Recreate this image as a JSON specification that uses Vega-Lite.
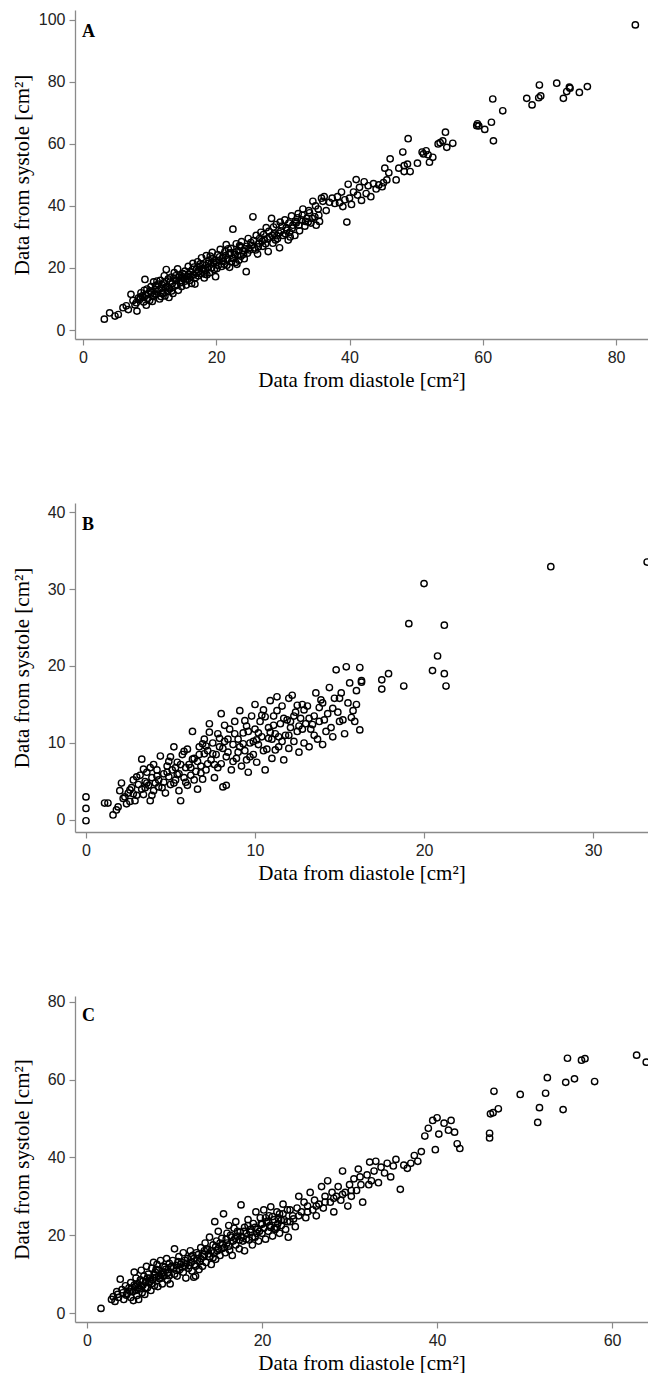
{
"$schema":"https://vega.github.io/schema/vega-lite/v6.json",
"background":"white",
"padding":{"left":11,"top":10,"right":0,"bottom":0},
"bounds":"flush",
"spacing":164,
"config":{
 "font":"Liberation Sans",
 "view":{"stroke":null},
 "axis":{"grid":false,"domainColor":"#8a8a8a","domainWidth":1.3,"tickColor":"#8a8a8a","tickWidth":1.2,"tickSize":6,"labelPadding":4,"labelFont":"Liberation Sans","labelFontSize":16,"labelColor":"#222222","titleFont":"Liberation Serif","titleFontSize":21,"titleFontWeight":"normal","titleColor":"#000000"},
 "axisX":{"titlePadding":4,"labelFont":"Liberation Sans"},
 "axisY":{"titleX":-43,"titleBaseline":"bottom","labelFont":"Liberation Sans"},
 "title":{"anchor":"start","frame":"group","font":"Liberation Serif","fontSize":18,"fontWeight":"bold","color":"#000000","baseline":"top","offset":-20,"dx":7,"dy":11}
},
"datasets":{
"A":[
{"d":3.2,"s":3.5},{"d":4,"s":5.5},{"d":4.8,"s":4.5},{"d":5.3,"s":5},{"d":6,"s":7.2},{"d":6.5,"s":7.8},{"d":6.8,"s":6.6},{"d":7.2,"s":11.5},{"d":7.5,"s":9.5},{"d":8,"s":8.8},{"d":8.1,"s":6.1},{"d":8.5,"s":9.8},{"d":8.7,"s":12},{"d":8.9,"s":11},
{"d":9,"s":10.5},{"d":9.2,"s":12.8},{"d":9.3,"s":16.3},{"d":9.5,"s":8},{"d":9.6,"s":13.2},{"d":9.8,"s":11.8},{"d":10,"s":9.5},{"d":10.2,"s":14},{"d":10.3,"s":12.2},{"d":10.5,"s":10.8},{"d":10.6,"s":15.5},{"d":10.8,"s":13},{"d":11,"s":11.5},{"d":11.2,"s":12.5},{"d":11.3,"s":14.8},{"d":11.5,"s":10},{"d":11.6,"s":16},{"d":11.8,"s":13.5},{"d":12,"s":12},{"d":12.1,"s":15.2},{"d":12.3,"s":11},{"d":12.5,"s":19.5},{"d":12.6,"s":14},{"d":12.8,"s":16.5},{"d":12.9,"s":10.5},
{"d":13,"s":13.2},{"d":13.2,"s":17},{"d":13.4,"s":15},{"d":13.5,"s":11.8},{"d":13.7,"s":18.5},{"d":13.8,"s":14.2},{"d":14,"s":16},{"d":14.2,"s":19.7},{"d":14.3,"s":12.8},{"d":14.5,"s":17.5},{"d":14.6,"s":15.2},{"d":14.8,"s":14},{"d":15,"s":18.2},{"d":15.1,"s":16.5},{"d":15.3,"s":19},{"d":15.5,"s":14.5},{"d":15.6,"s":17.2},{"d":15.8,"s":20.5},{"d":16,"s":16},{"d":16.1,"s":18.8},{"d":16.3,"s":15},{"d":16.5,"s":21.5},{"d":16.6,"s":17.8},{"d":16.8,"s":14.8},{"d":17,"s":19.5},
{"d":17.2,"s":22},{"d":17.3,"s":17.5},{"d":17.5,"s":20.5},{"d":17.7,"s":18.2},{"d":17.8,"s":23.3},{"d":18,"s":21},{"d":18.2,"s":16.8},{"d":18.4,"s":19.2},{"d":18.5,"s":24},{"d":18.7,"s":20.2},{"d":18.9,"s":22.5},{"d":19,"s":18.5},{"d":19.2,"s":21.3},{"d":19.4,"s":25},{"d":19.5,"s":23},{"d":19.7,"s":19.5},{"d":19.9,"s":17.2},{"d":20,"s":21.8},{"d":20.2,"s":24.2},
{"d":20.4,"s":22.5},{"d":20.6,"s":26},{"d":20.8,"s":20.5},{"d":21,"s":23.5},{"d":21.2,"s":21.2},{"d":21.3,"s":25.3},{"d":21.5,"s":27.5},{"d":21.7,"s":22.8},{"d":21.9,"s":24.5},{"d":22,"s":20.2},{"d":22.2,"s":26.3},{"d":22.4,"s":23.2},{"d":22.5,"s":32.5},{"d":22.7,"s":25},{"d":22.9,"s":21.8},{"d":23,"s":27.8},{"d":23.2,"s":24},{"d":23.4,"s":22.5},{"d":23.6,"s":26.8},{"d":23.8,"s":28.5},{"d":24,"s":25.5},{"d":24.2,"s":23},{"d":24.5,"s":18.8},{"d":24.6,"s":27},{"d":24.8,"s":29.5},
{"d":25,"s":25.8},{"d":25.2,"s":28.2},{"d":25.5,"s":36.5},{"d":25.7,"s":26.5},{"d":26,"s":30.5},{"d":26.2,"s":24.5},{"d":26.4,"s":28},{"d":26.7,"s":31.5},{"d":27,"s":27},{"d":27.2,"s":29.2},{"d":27.5,"s":33},{"d":27.8,"s":25.3},{"d":28,"s":30},{"d":28.3,"s":36},{"d":28.5,"s":28},{"d":28.7,"s":31},{"d":29,"s":34},{"d":29.2,"s":29.5},{"d":29.5,"s":26.5},{"d":29.7,"s":32},{"d":30,"s":30.5},{"d":30.3,"s":35.5},{"d":30.5,"s":33},{"d":30.8,"s":29},{"d":31,"s":31.5},
{"d":31.3,"s":36.8},{"d":31.5,"s":33.8},{"d":31.8,"s":30.5},{"d":32,"s":34.5},{"d":32.3,"s":37.5},{"d":32.5,"s":32},{"d":32.8,"s":35.5},{"d":33,"s":39},{"d":33.3,"s":33.5},{"d":33.6,"s":36},{"d":34,"s":37.8},{"d":34.2,"s":34.5},{"d":34.5,"s":41.5},{"d":34.8,"s":36.5},{"d":35,"s":33.8},{"d":35.3,"s":39},{"d":35.5,"s":35},{"d":36,"s":41.5},{"d":36.2,"s":43},{"d":36.5,"s":38.5},
{"d":37,"s":41.2},{"d":37.4,"s":42.5},{"d":37.8,"s":40.8},{"d":38.2,"s":43},{"d":38.5,"s":41},{"d":38.8,"s":44.5},{"d":39,"s":39.8},{"d":39.3,"s":42},{"d":39.6,"s":34.8},{"d":39.8,"s":47},{"d":40,"s":42.5},{"d":40.3,"s":40.5},{"d":40.6,"s":44.5},{"d":41,"s":48.5},{"d":41.2,"s":43.5},{"d":41.5,"s":46},{"d":41.8,"s":41.8},{"d":42.2,"s":47.8},{"d":42.5,"s":44},{"d":42.8,"s":46.5},{"d":43.2,"s":43},{"d":43.6,"s":47.2},{"d":44,"s":45.5},{"d":44.4,"s":46.8},{"d":44.9,"s":46.2},{"d":45.1,"s":47.5},{"d":45.3,"s":52.2},{"d":45.6,"s":48.4},{"d":45.9,"s":50.7},{"d":46.1,"s":55.2},{"d":47,"s":48.4},{"d":47.4,"s":52.2},{"d":48,"s":57.4},{"d":48.2,"s":53},{"d":48.2,"s":51.1},{"d":48.7,"s":53.5},{"d":48.8,"s":61.7},{"d":49.1,"s":51.1},{"d":50.2,"s":53.8},{"d":50.9,"s":57.4},{"d":51.5,"s":57.8},{"d":51.1,"s":56.8},{"d":51.8,"s":56.5},{"d":52.5,"s":55.7},{"d":52,"s":54.1},{"d":53.6,"s":60.4},{"d":53.3,"s":60},{"d":54,"s":61},{"d":54.6,"s":58.9},{"d":55.5,"s":60.2},{"d":54.4,"s":63.8},{"d":59.2,"s":66.5},{"d":59.4,"s":65.8},{"d":59.1,"s":65.9},{"d":60.3,"s":64.7},{"d":61.3,"s":67},{"d":61.6,"s":61},{"d":61.5,"s":74.5},{"d":63,"s":70.7},{"d":66.6,"s":74.7},{"d":67.4,"s":72.6},{"d":68.4,"s":74.9},{"d":68.7,"s":75.5},{"d":68.5,"s":79},{"d":71.1,"s":79.6},{"d":73,"s":78.3},{"d":73.1,"s":78},{"d":72.6,"s":76.9},{"d":72.1,"s":74.7},{"d":74.5,"s":76.6},{"d":75.7,"s":78.5},{"d":82.9,"s":98.4},
{"d":9.4,"s":11.2},{"d":10.1,"s":12.6},{"d":10.9,"s":14.3},{"d":11.4,"s":13.1},{"d":11.9,"s":11.7},{"d":12.4,"s":13.8},{"d":12.7,"s":12.5},{"d":13.1,"s":15.8},{"d":13.6,"s":16.7},{"d":14.1,"s":14.6},{"d":14.4,"s":17},{"d":14.9,"s":16.8},{"d":15.4,"s":15.8},{"d":15.9,"s":18},{"d":16.4,"s":19.5},{"d":16.9,"s":16.9},{"d":17.4,"s":18.9},{"d":17.9,"s":19.8},{"d":18.3,"s":18},{"d":18.8,"s":21.5},{"d":19.3,"s":20},{"d":19.8,"s":22.3},{"d":20.3,"s":20.8},{"d":20.9,"s":23},{"d":21.4,"s":24},{"d":21.8,"s":26.2},{"d":22.3,"s":22},{"d":22.8,"s":24.3},{"d":23.3,"s":25.6},{"d":23.7,"s":23.8},{"d":24.3,"s":26.2},{"d":24.7,"s":24.8},{"d":25.3,"s":27.3},{"d":25.9,"s":25.8},{"d":26.5,"s":29.5},{"d":26.9,"s":28.6},{"d":27.4,"s":27.8},{"d":27.9,"s":31.8},{"d":28.4,"s":30.5},{"d":28.9,"s":29},{"d":29.4,"s":31.2},{"d":29.9,"s":33.5},{"d":30.4,"s":31},{"d":30.9,"s":34.5},{"d":31.4,"s":32.8},{"d":31.9,"s":35},{"d":32.4,"s":33.8},{"d":32.9,"s":37},{"d":33.4,"s":35},{"d":33.9,"s":38.5},{"d":34.4,"s":36},{"d":34.9,"s":40},{"d":35.4,"s":37},{"d":35.8,"s":42.5},{"d":10.4,"s":9.2},{"d":11.7,"s":10.8},{"d":12.2,"s":17.5},{"d":8.3,"s":10.3},{"d":9.1,"s":9},{"d":7.8,"s":8.1},
{"d":8.6,"s":10.6},{"d":9.7,"s":10.2},{"d":10.7,"s":11.6},{"d":11.1,"s":15.8},{"d":11.9,"s":14.6},{"d":12.9,"s":13.6},{"d":13.3,"s":12.6},{"d":13.9,"s":17.5},{"d":14.7,"s":15.9},{"d":15.2,"s":17.8},{"d":15.7,"s":16.4},{"d":16.2,"s":17.3},{"d":16.7,"s":20.3},{"d":17.1,"s":18.3},{"d":17.6,"s":21.3},{"d":18.1,"s":19.6},{"d":18.6,"s":17.8},{"d":19.1,"s":23.8},{"d":19.6,"s":21.7},{"d":20.1,"s":19.8},{"d":20.5,"s":23.6},{"d":21.1,"s":22.1},{"d":21.6,"s":20.9},{"d":22.1,"s":24.9},{"d":22.6,"s":23.1},{"d":23.1,"s":21.2},{"d":23.5,"s":27.2},{"d":24.1,"s":24.4},{"d":24.9,"s":26.4},{"d":25.6,"s":28.8},{"d":26.3,"s":26.8},{"d":27.1,"s":30.8},{"d":27.7,"s":29.4},{"d":28.6,"s":33.2},{"d":29.1,"s":30.4},{"d":29.6,"s":34.8},{"d":30.6,"s":32.2},{"d":31.1,"s":30},{"d":32.2,"s":36.2},{"d":33.8,"s":34.8}
],
"B":[
{"d":0,"s":3},{"d":0,"s":1.5},{"d":0,"s":-0.1},{"d":1.1,"s":2.2},{"d":1.3,"s":2.2},{"d":1.6,"s":0.65},{"d":1.8,"s":1.3},{"d":1.9,"s":1.7},{"d":2,"s":3.8},{"d":2.1,"s":4.8},{"d":2.2,"s":2.8},{"d":2.4,"s":2.1},{"d":2.5,"s":3.5},{"d":2.6,"s":2.4},{"d":2.7,"s":4.2},{"d":2.8,"s":5.2},{"d":2.9,"s":2.5},{"d":3,"s":3.2},{"d":3.1,"s":4.6},
{"d":3.2,"s":5.8},{"d":3.3,"s":7.9},{"d":3.3,"s":4},{"d":3.4,"s":3.3},{"d":3.5,"s":5},{"d":3.6,"s":6.2},{"d":3.7,"s":4.5},{"d":3.8,"s":2.5},{"d":3.9,"s":5.5},{"d":4,"s":7.2},{"d":4,"s":3.8},{"d":4.1,"s":4.8},{"d":4.2,"s":6.5},{"d":4.3,"s":5.2},{"d":4.4,"s":8.3},{"d":4.5,"s":4.2},{"d":4.6,"s":6},{"d":4.7,"s":3.5},{"d":4.8,"s":7},{"d":4.9,"s":5.6},{"d":5,"s":4.6},{"d":5,"s":8.2},
{"d":5.1,"s":6.5},{"d":5.2,"s":9.5},{"d":5.3,"s":5.2},{"d":5.4,"s":7.5},{"d":5.5,"s":3.8},{"d":5.5,"s":6},{"d":5.6,"s":2.5},{"d":5.7,"s":8.5},{"d":5.8,"s":5.5},{"d":5.9,"s":6.8},{"d":6,"s":9.2},{"d":6,"s":4.5},{"d":6.1,"s":7.2},{"d":6.2,"s":5.8},{"d":6.3,"s":11.5},{"d":6.4,"s":8},{"d":6.5,"s":6.3},{"d":6.6,"s":4},{"d":6.7,"s":9.5},{"d":6.8,"s":7},{"d":6.9,"s":5.3},{"d":7,"s":8.6},
{"d":7,"s":10.5},{"d":7.1,"s":6.5},{"d":7.2,"s":9},{"d":7.3,"s":12.5},{"d":7.4,"s":7.8},{"d":7.5,"s":10},{"d":7.6,"s":5.5},{"d":7.7,"s":8.5},{"d":7.8,"s":11.2},{"d":7.9,"s":9.5},{"d":8,"s":7.3},{"d":8,"s":13.8},{"d":8.1,"s":4.3},{"d":8.2,"s":10.2},{"d":8.3,"s":4.5},{"d":8.4,"s":8.8},{"d":8.5,"s":11.8},{"d":8.6,"s":6.5},{"d":8.7,"s":9.8},{"d":8.8,"s":12.8},{"d":8.9,"s":8},{"d":9,"s":10.5},
{"d":9.1,"s":14.2},{"d":9.2,"s":7},{"d":9.3,"s":11.3},{"d":9.4,"s":9},{"d":9.5,"s":12.2},{"d":9.6,"s":6.2},{"d":9.7,"s":10},{"d":9.8,"s":13.5},{"d":9.9,"s":8.5},{"d":10,"s":11.8},{"d":10,"s":15},{"d":10.1,"s":7.5},{"d":10.2,"s":9.8},{"d":10.3,"s":12.8},{"d":10.4,"s":10.8},{"d":10.5,"s":14.3},{"d":10.6,"s":6.5},{"d":10.7,"s":9.2},{"d":10.8,"s":12},{"d":10.9,"s":15.5},{"d":11,"s":10.5},{"d":11,"s":8},
{"d":11.1,"s":13.5},{"d":11.2,"s":11.2},{"d":11.3,"s":16},{"d":11.4,"s":9.5},{"d":11.5,"s":12.5},{"d":11.6,"s":14.8},{"d":11.7,"s":7.8},{"d":11.8,"s":11},{"d":11.9,"s":13},{"d":12,"s":15.8},{"d":12,"s":9.3},{"d":12.1,"s":12},{"d":12.2,"s":16.2},{"d":12.3,"s":10.2},{"d":12.4,"s":14},{"d":12.5,"s":11.5},{"d":12.6,"s":8.8},{"d":12.7,"s":13.2},{"d":12.8,"s":15},{"d":12.9,"s":10},{"d":13,"s":12.5},
{"d":13.1,"s":14.8},{"d":13.2,"s":9.5},{"d":13.3,"s":11.8},{"d":13.5,"s":13.5},{"d":13.6,"s":16.5},{"d":13.7,"s":10.5},{"d":13.8,"s":12.8},{"d":14,"s":15.2},{"d":14,"s":9.8},{"d":14.2,"s":11.5},{"d":14.3,"s":13.8},{"d":14.4,"s":17.2},{"d":14.5,"s":12},{"d":14.6,"s":10.8},{"d":14.7,"s":15.8},{"d":14.8,"s":19.5},{"d":14.9,"s":14},{"d":15,"s":12.8},{"d":15.1,"s":16.5},{"d":15.2,"s":13},{"d":15.3,"s":11.2},{"d":15.4,"s":19.9},{"d":15.5,"s":15.2},{"d":15.6,"s":17.8},{"d":15.8,"s":14.2},{"d":15.9,"s":12.8},{"d":16,"s":16.8},{"d":16.2,"s":19.8},{"d":16.2,"s":11.7},{"d":16.3,"s":18.1},{"d":16.3,"s":17.9},{"d":17.5,"s":18.2},{"d":17.9,"s":19},{"d":17.5,"s":17},{"d":18.8,"s":17.4},{"d":19.1,"s":25.5},{"d":20,"s":30.7},{"d":20.5,"s":19.4},{"d":20.8,"s":21.3},{"d":21.2,"s":19},{"d":21.2,"s":25.3},{"d":21.3,"s":17.4},{"d":27.5,"s":32.9},{"d":33.2,"s":33.5},
{"d":2.3,"s":3},{"d":2.6,"s":3.9},{"d":3,"s":5.6},{"d":3.5,"s":4.2},{"d":3.9,"s":3.2},{"d":4.2,"s":5.7},{"d":4.6,"s":4.9},{"d":5.2,"s":4.8},{"d":5.6,"s":7.2},{"d":5.9,"s":4.9},{"d":6.2,"s":6.8},{"d":6.6,"s":7.6},{"d":6.9,"s":9.9},{"d":7.2,"s":7.3},{"d":7.5,"s":8.6},{"d":7.8,"s":6.8},{"d":8.1,"s":9.3},{"d":8.4,"s":10.5},{"d":8.7,"s":7.6},{"d":9,"s":8.8},{"d":9.3,"s":9.9},{"d":9.6,"s":11.5},{"d":9.9,"s":10.2},{"d":10.2,"s":11.3},{"d":10.5,"s":9},{"d":10.8,"s":10.6},{"d":11.1,"s":12.3},{"d":11.4,"s":10.8},{"d":11.7,"s":13.2},{"d":12,"s":11},{"d":12.3,"s":13.5},{"d":12.6,"s":12.2},{"d":12.9,"s":14.3},{"d":13.2,"s":13.2},{"d":13.5,"s":11},{"d":13.8,"s":14.6},{"d":5.4,"s":5.9},{"d":6.4,"s":5.2},{"d":7.3,"s":11.4},{"d":8.2,"s":12.3},{"d":9.5,"s":7.8},{"d":10.6,"s":13.4},{"d":11.2,"s":9.1},{"d":4.8,"s":6.2},{"d":3.6,"s":4.8},{"d":6.7,"s":8.5},
{"d":3.4,"s":6.6},{"d":4.3,"s":4.3},{"d":4.9,"s":7.6},{"d":5.3,"s":6.8},{"d":5.8,"s":8.9},{"d":6.3,"s":7.9},{"d":6.8,"s":6.1},{"d":7.1,"s":9.6},{"d":7.6,"s":7.2},{"d":7.9,"s":10.6},{"d":8.3,"s":8.2},{"d":8.8,"s":11.2},{"d":9.1,"s":9.5},{"d":9.4,"s":12.9},{"d":9.7,"s":8.2},{"d":10.1,"s":10.4},{"d":10.4,"s":13.6},{"d":10.9,"s":11.4},{"d":11.3,"s":14.2},{"d":11.6,"s":10.2},{"d":12.1,"s":12.8},{"d":12.5,"s":14.9},{"d":12.8,"s":11.8},{"d":13.4,"s":12.4},{"d":13.9,"s":15.6},{"d":14.1,"s":13},{"d":14.6,"s":14.5},{"d":15,"s":15.8},{"d":15.7,"s":13.3},{"d":16,"s":15},{"d":2.8,"s":3.4},{"d":3.8,"s":6.8}
],
"C":[
{"d":1.6,"s":1.2},{"d":2.8,"s":3.5},{"d":3,"s":4.2},{"d":3.2,"s":3},{"d":3.4,"s":5.5},{"d":3.6,"s":4},{"d":3.8,"s":8.7},{"d":4,"s":6},{"d":4.2,"s":3.5},{"d":4.4,"s":7},{"d":4.6,"s":5},{"d":4.8,"s":6.5},{"d":5,"s":4},{"d":5,"s":7.8},{"d":5.2,"s":5.5},{"d":5.3,"s":3.2},{"d":5.4,"s":10.5},{"d":5.5,"s":6.8},{"d":5.6,"s":9},{"d":5.7,"s":4.5},{"d":5.8,"s":7.5},{"d":5.9,"s":3.5},
{"d":6,"s":6.2},{"d":6.1,"s":8.5},{"d":6.2,"s":11},{"d":6.3,"s":5.2},{"d":6.4,"s":7.2},{"d":6.5,"s":9.5},{"d":6.6,"s":4.8},{"d":6.7,"s":8},{"d":6.8,"s":12},{"d":6.9,"s":6.5},{"d":7,"s":10},{"d":7.1,"s":7.8},{"d":7.2,"s":9},{"d":7.3,"s":5.8},{"d":7.4,"s":11.5},{"d":7.5,"s":8.5},{"d":7.6,"s":13},{"d":7.7,"s":7},{"d":7.8,"s":10.5},{"d":7.9,"s":9.2},{"d":8,"s":12.5},{"d":8.1,"s":6.8},{"d":8.2,"s":11},{"d":8.3,"s":8.8},{"d":8.4,"s":13.5},{"d":8.5,"s":10},{"d":8.6,"s":7.5},{"d":8.7,"s":12},{"d":8.8,"s":9.5},{"d":9,"s":11.2},{"d":9.1,"s":14},{"d":9.2,"s":8.5},
{"d":9.3,"s":10.5},{"d":9.4,"s":12.8},{"d":9.5,"s":7.5},{"d":9.6,"s":11.8},{"d":9.8,"s":13.5},{"d":10,"s":10},{"d":10,"s":16.5},{"d":10.2,"s":12.2},{"d":10.3,"s":9.5},{"d":10.5,"s":14.5},{"d":10.6,"s":11.2},{"d":10.8,"s":13},{"d":11,"s":10.5},{"d":11,"s":15.5},{"d":11.2,"s":12},{"d":11.3,"s":9},{"d":11.5,"s":14},{"d":11.6,"s":11.5},{"d":11.8,"s":16},{"d":11.9,"s":13},{"d":12,"s":10.8},{"d":12.1,"s":14.8},{"d":12.2,"s":9.2},{"d":12.3,"s":12.5},{"d":12.4,"s":9.5},{"d":12.5,"s":15.5},{"d":12.6,"s":13.5},{"d":12.8,"s":11.2},{"d":13,"s":16.8},{"d":13,"s":14},
{"d":13.2,"s":12},{"d":13.4,"s":15},{"d":13.5,"s":18},{"d":13.6,"s":13},{"d":13.8,"s":16.2},{"d":14,"s":14.5},{"d":14,"s":19.5},{"d":14.2,"s":12.5},{"d":14.4,"s":17.5},{"d":14.5,"s":15.5},{"d":14.6,"s":23.5},{"d":14.7,"s":13.8},{"d":14.8,"s":18.5},{"d":15,"s":16.5},{"d":15,"s":21},{"d":15.2,"s":14.8},{"d":15.4,"s":19.2},{"d":15.5,"s":17.5},{"d":15.6,"s":25.5},{"d":15.8,"s":15.5},{"d":16,"s":20.5},{"d":16,"s":18},{"d":16.2,"s":22.5},{"d":16.3,"s":16.2},{"d":16.5,"s":19.5},{"d":16.6,"s":14.8},{"d":16.8,"s":21.8},{"d":17,"s":17.5},{"d":17,"s":23.5},{"d":17.2,"s":19.8},{"d":17.4,"s":16.5},{"d":17.5,"s":20.8},{"d":17.6,"s":27.8},{"d":17.8,"s":18.5},{"d":18,"s":22},{"d":18,"s":16},
{"d":18.2,"s":20.5},{"d":18.4,"s":24},{"d":18.5,"s":18.8},{"d":18.7,"s":21.5},{"d":18.9,"s":17.5},{"d":19,"s":23},{"d":19.2,"s":19.5},{"d":19.3,"s":26},{"d":19.5,"s":21.5},{"d":19.6,"s":18.5},{"d":19.8,"s":24.5},{"d":20,"s":20.5},{"d":20,"s":22.8},{"d":20.2,"s":26.5},{"d":20.4,"s":19},{"d":20.5,"s":23.5},{"d":20.7,"s":21},{"d":20.8,"s":25},{"d":21,"s":27.3},{"d":21,"s":22},{"d":21.2,"s":19.8},{"d":21.4,"s":24},{"d":21.5,"s":21.5},{"d":21.7,"s":26},{"d":21.8,"s":23},{"d":22,"s":20.5},{"d":22,"s":25.5},{"d":22.2,"s":22.5},{"d":22.4,"s":28},{"d":22.5,"s":24},{"d":22.7,"s":21.5},{"d":22.9,"s":26.5},{"d":23,"s":19.5},
{"d":23.2,"s":23.5},{"d":23.5,"s":25},{"d":23.8,"s":22.2},{"d":24,"s":27},{"d":24.2,"s":30},{"d":24.5,"s":26},{"d":24.8,"s":28.5},{"d":25,"s":24.5},{"d":25.2,"s":27.5},{"d":25.5,"s":31},{"d":25.8,"s":26.5},{"d":26,"s":29},{"d":26.2,"s":25},{"d":26.5,"s":28},{"d":26.8,"s":32.5},{"d":27,"s":27},{"d":27.2,"s":30},{"d":27.5,"s":34},{"d":27.8,"s":28.5},{"d":28,"s":31},{"d":28.2,"s":26},{"d":28.5,"s":30},{"d":28.7,"s":32.5},{"d":29,"s":29},{"d":29.2,"s":36.5},{"d":29.5,"s":31},{"d":29.8,"s":27.5},{"d":30,"s":33},{"d":30.2,"s":30},
{"d":30.5,"s":34.5},{"d":30.8,"s":31.5},{"d":31,"s":37},{"d":31.3,"s":33},{"d":31.5,"s":28.5},{"d":32,"s":35.5},{"d":32.3,"s":38.8},{"d":32.5,"s":34},{"d":32.8,"s":36.5},{"d":33,"s":39},{"d":33.3,"s":33.5},{"d":33.6,"s":37.5},{"d":34,"s":36},{"d":34.3,"s":38.5},{"d":34.7,"s":35},{"d":35,"s":37.8},{"d":35.3,"s":39.5},{"d":35.8,"s":31.8},{"d":36.2,"s":38},{"d":36.6,"s":37.2},{"d":37,"s":38.5},{"d":37.4,"s":40.5},{"d":37.8,"s":39},{"d":38.2,"s":41.5},
{"d":38.6,"s":45.5},{"d":39,"s":47.5},{"d":39.5,"s":49.5},{"d":39.8,"s":42},{"d":40.2,"s":46},{"d":40,"s":50.2},{"d":40.8,"s":48.8},{"d":41.3,"s":47},{"d":41.6,"s":49.5},{"d":42,"s":46.5},{"d":42.3,"s":43.5},{"d":42.6,"s":42.3},{"d":46,"s":46.2},{"d":46,"s":45},{"d":46.1,"s":51.2},{"d":46.4,"s":51.5},{"d":46.5,"s":57},{"d":47,"s":52.5},{"d":49.5,"s":56.2},{"d":51.5,"s":49},{"d":51.7,"s":52.8},{"d":52.4,"s":56.5},{"d":52.6,"s":60.5},{"d":54.4,"s":52.3},{"d":54.7,"s":59.3},{"d":54.9,"s":65.5},{"d":55.7,"s":60.2},{"d":56.5,"s":65},{"d":56.9,"s":65.4},{"d":58,"s":59.5},{"d":62.8,"s":66.3},{"d":63.9,"s":64.5},
{"d":4.5,"s":4.6},{"d":5.1,"s":6.2},{"d":5.6,"s":5.8},{"d":6.2,"s":7},{"d":6.7,"s":6.5},{"d":7.2,"s":8.2},{"d":7.7,"s":9.8},{"d":8.2,"s":9.6},{"d":8.7,"s":10.5},{"d":9.2,"s":10.2},{"d":9.7,"s":12},{"d":10.2,"s":11},{"d":10.7,"s":12.5},{"d":11.2,"s":13.5},{"d":11.7,"s":12.2},{"d":12.2,"s":14},{"d":12.7,"s":15},{"d":13.2,"s":14.5},{"d":13.7,"s":16.5},{"d":14.2,"s":16},{"d":14.7,"s":17},{"d":15.2,"s":18},{"d":15.7,"s":16.8},{"d":16.2,"s":17.2},{"d":16.7,"s":18.5},{"d":17.2,"s":21},{"d":17.7,"s":19.5},{"d":18.2,"s":19},{"d":18.7,"s":20.8},{"d":19.2,"s":22},{"d":19.7,"s":21},{"d":20.2,"s":21.8},{"d":20.7,"s":23.5},{"d":21.2,"s":24.8},{"d":21.7,"s":22},{"d":22.2,"s":23.8},{"d":23.2,"s":26.5},{"d":24.2,"s":25},{"d":25.2,"s":26},{"d":26.2,"s":27.5},{"d":27.2,"s":28.5},{"d":28.2,"s":29.5},{"d":29.2,"s":30.5},{"d":30.2,"s":31.5},{"d":31.2,"s":35},{"d":32.2,"s":33},
{"d":3.5,"s":4.8},{"d":4.1,"s":5.2},{"d":4.9,"s":5.6},{"d":5.4,"s":7.2},{"d":5.9,"s":6.6},{"d":6.4,"s":8.2},{"d":6.9,"s":9},{"d":7.4,"s":7.6},{"d":7.9,"s":11.2},{"d":8.4,"s":9.2},{"d":8.9,"s":11.8},{"d":9.4,"s":9.6},{"d":9.9,"s":11.6},{"d":10.4,"s":13.2},{"d":10.9,"s":11.8},{"d":11.4,"s":12.8},{"d":11.9,"s":14.5},{"d":12.4,"s":12},{"d":12.9,"s":13.2},{"d":13.4,"s":16},{"d":13.9,"s":15.2},{"d":14.4,"s":14.2},{"d":14.9,"s":16},{"d":15.4,"s":16.5},{"d":15.9,"s":19},{"d":16.4,"s":20},{"d":16.9,"s":19.2},{"d":17.4,"s":18.8},{"d":17.9,"s":21},{"d":18.4,"s":22.5},{"d":18.9,"s":19.5},{"d":19.4,"s":20.5},{"d":19.9,"s":23},{"d":20.4,"s":24.5},{"d":20.9,"s":22.5},{"d":21.4,"s":21.8},{"d":21.9,"s":24.2},{"d":22.4,"s":25.5},{"d":22.9,"s":23.5},{"d":23.6,"s":24.2}
]
},
"vconcat":[
{
 "title":{"text":"A"},
 "width":573,"height":329,
 "data":{"name":"A"},
 "mark":{"type":"point","shape":"circle","filled":false,"color":"#000000","size":40,"strokeWidth":1.4,"opacity":1,"clip":true},
 "encoding":{
  "x":{"field":"d","type":"quantitative","scale":{"domain":[-1.2,84.8],"nice":false,"zero":false},"axis":{"title":"Data from diastole [cm²]","values":[0,20,40,60,80]}},
  "y":{"field":"s","type":"quantitative","scale":{"domain":[-2.9,103.2],"nice":false,"zero":false},"axis":{"title":"Data from systole [cm²]","values":[0,20,40,60,80,100]}}
 }
},
{
 "title":{"text":"B"},
 "width":573,"height":329,
 "data":{"name":"B"},
 "mark":{"type":"point","shape":"circle","filled":false,"color":"#000000","size":40,"strokeWidth":1.4,"opacity":1,"clip":true},
 "encoding":{
  "x":{"field":"d","type":"quantitative","scale":{"domain":[-0.65,33.25],"nice":false,"zero":false},"axis":{"title":"Data from diastole [cm²]","values":[0,10,20,30]}},
  "y":{"field":"s","type":"quantitative","scale":{"domain":[-1.56,41.17],"nice":false,"zero":false},"axis":{"title":"Data from systole [cm²]","values":[0,10,20,30,40]}}
 }
},
{
 "title":{"text":"C"},
 "width":573,"height":326,
 "data":{"name":"C"},
 "mark":{"type":"point","shape":"circle","filled":false,"color":"#000000","size":40,"strokeWidth":1.4,"opacity":1,"clip":true},
 "encoding":{
  "x":{"field":"d","type":"quantitative","scale":{"domain":[-1.37,64.1],"nice":false,"zero":false},"axis":{"title":"Data from diastole [cm²]","values":[0,20,40,60]}},
  "y":{"field":"s","type":"quantitative","scale":{"domain":[-2.3,81.5],"nice":false,"zero":false},"axis":{"title":"Data from systole [cm²]","values":[0,20,40,60,80]}}
 }
}
]
}
